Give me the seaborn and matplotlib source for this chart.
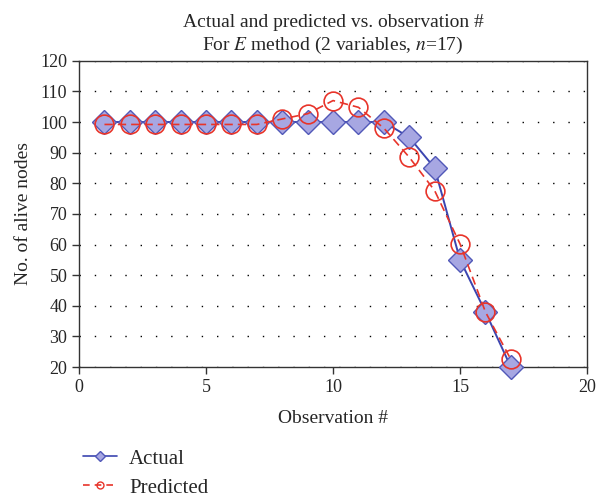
import matplotlib
matplotlib.use("Agg")
import matplotlib.pyplot as plt
import seaborn as sns
import pandas as pd
from matplotlib.lines import Line2D

observations = list(range(1, 18))
actual = [100, 100, 100, 100, 100, 100, 100, 100, 100, 100, 100, 100, 95, 85, 55, 38, 20]
predicted = [99.2, 99.2, 99.2, 99.2, 99.2, 99.2, 99.2, 101, 102.7, 107, 104.8, 98, 88.5, 77.6, 60.2, 38, 22.5]
x_ticks = [0, 5, 10, 15, 20]
y_ticks = list(range(20, 121, 10))

sns.set_style("white")
plt.rcParams["font.family"] = ["Liberation Serif", "DejaVu Serif"]
plt.rcParams["mathtext.fontset"] = "stix"

df = pd.DataFrame({"obs": observations, "Actual": actual, "Predicted": predicted})

fig = plt.figure(figsize=(5.99, 4.98), dpi=100)
ax = fig.add_axes([0.132, 0.263, 0.848, 0.615])

blue = "#3b45b0"
red = "#e8342a"

sns.lineplot(data=df, x="obs", y="Actual", ax=ax, color=blue, lw=1.4,
             marker="D", markersize=12, markerfacecolor="#a7a7e2",
             markeredgecolor="#5158b8", markeredgewidth=1.0, zorder=3)
sns.lineplot(data=df, x="obs", y="Predicted", ax=ax, color=red, lw=1.2,
             linestyle=(0, (5, 3)), marker="o", markersize=13.5,
             markerfacecolor="none", markeredgecolor=red, markeredgewidth=1.2, zorder=4)
for ln in ax.lines:
    ln.set_clip_on(False)

ax.set_xlim(0, 20)
ax.set_ylim(20, 120)
ax.set_xticks(x_ticks)
ax.set_yticks(y_ticks)
ax.yaxis.grid(True, linestyle=(0, (1, 10)), color="black", lw=1.0)
ax.xaxis.grid(False)
for s in ax.spines.values():
    s.set_color("#333333")
    s.set_linewidth(1.0)
ax.tick_params(axis="both", direction="out", length=5, width=1.0, color="#333333",
               labelsize=13, left=True, bottom=True)
ax.set_xlabel("Observation #", fontsize=14, labelpad=10)
ax.set_ylabel("No. of alive nodes", fontsize=14, labelpad=6)
ax.set_title("Actual and predicted vs. observation #\nFor $\\mathit{E}$ method (2 variables, $\\mathit{n}$=17)",
             fontsize=14, pad=8, linespacing=1.25)

handles = [
    Line2D([], [], color=blue, lw=1.2, marker="D", markersize=5,
           markerfacecolor="#a7a7e2", markeredgecolor="#5158b8"),
    Line2D([], [], color=red, lw=1.2, linestyle=(0, (4, 3)), marker="o", markersize=5,
           markerfacecolor="none", markeredgecolor=red),
]
fig.legend(handles, ["Actual", "Predicted"], loc="upper left",
           bbox_to_anchor=(0.125, 0.115), frameon=False, fontsize=15,
           handlelength=1.6, handletextpad=0.6, labelspacing=0.45, borderaxespad=0)

fig.savefig("out.png", dpi=100)
